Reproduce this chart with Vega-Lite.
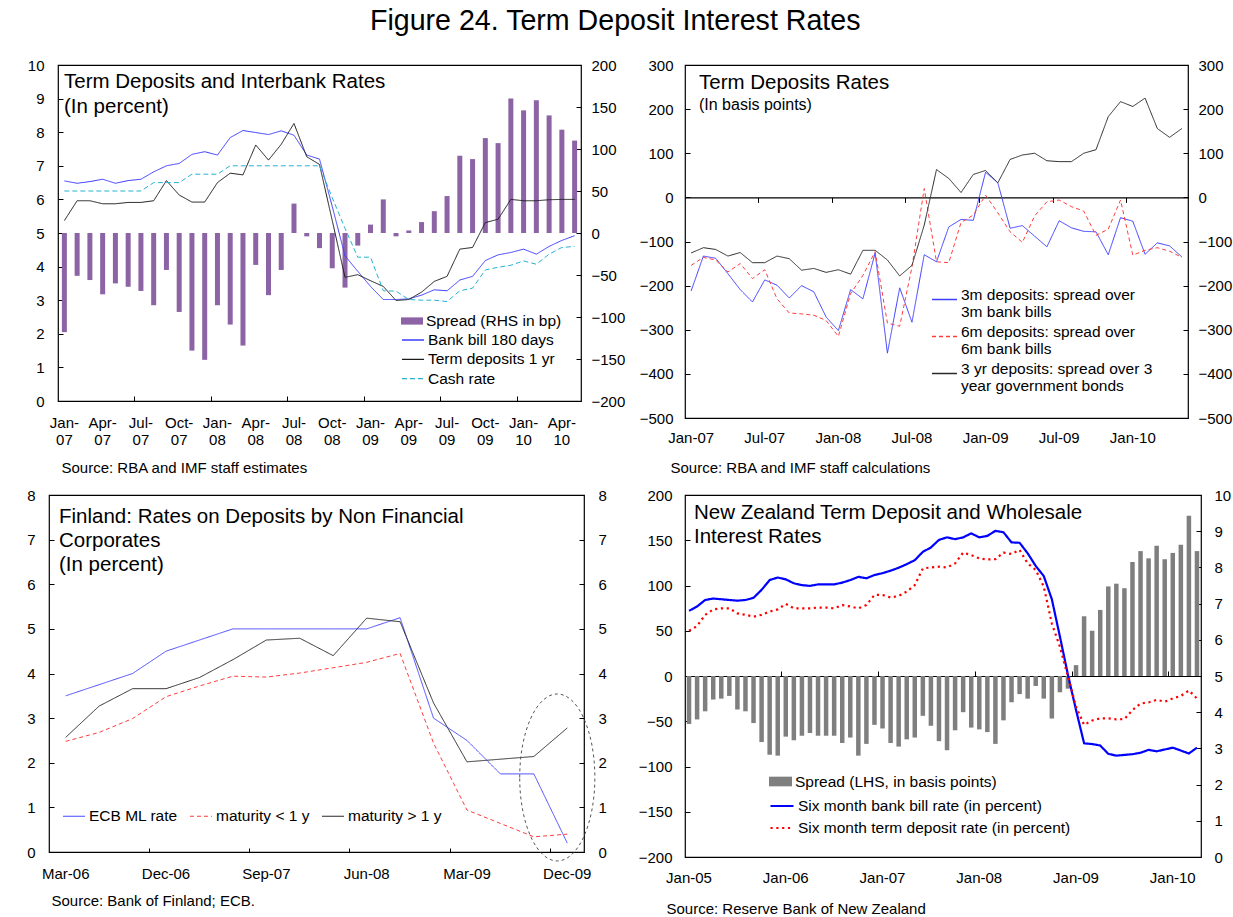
{
"$schema": "https://vega.github.io/schema/vega-lite/v6.json",
"padding": {"left": 26, "top": 6, "right": 0, "bottom": 0},
"title": {"text": "Figure 24. Term Deposit Interest Rates", "fontSize": 28.6, "anchor": "middle", "frame": "bounds", "offset": 22, "dx": -14},
"spacing": 11,
"columns": 1,
"align": "none",
"resolve": {"scale": {"stroke": "independent", "fill": "independent", "strokeDash": "independent", "strokeWidth": "independent"}, "legend": {"stroke": "independent", "fill": "independent", "strokeDash": "independent", "strokeWidth": "independent"}},
"datasets": {
"p1": [
{"m":"2007-01","spread":-118,"bill":6.55,"td":5.37,"cash":6.25},
{"m":"2007-02","spread":-51,"bill":6.48,"td":5.96,"cash":6.25},
{"m":"2007-03","spread":-56,"bill":6.53,"td":5.96,"cash":6.25},
{"m":"2007-04","spread":-73,"bill":6.60,"td":5.87,"cash":6.25},
{"m":"2007-05","spread":-60,"bill":6.48,"td":5.87,"cash":6.25},
{"m":"2007-06","spread":-64,"bill":6.56,"td":5.91,"cash":6.25},
{"m":"2007-07","spread":-69,"bill":6.60,"td":5.91,"cash":6.25},
{"m":"2007-08","spread":-86,"bill":6.82,"td":5.96,"cash":6.50},
{"m":"2007-09","spread":-44,"bill":7.00,"td":6.56,"cash":6.50},
{"m":"2007-10","spread":-94,"bill":7.07,"td":6.13,"cash":6.50},
{"m":"2007-11","spread":-140,"bill":7.34,"td":5.92,"cash":6.75},
{"m":"2007-12","spread":-151,"bill":7.42,"td":5.92,"cash":6.75},
{"m":"2008-01","spread":-86,"bill":7.32,"td":6.50,"cash":6.75},
{"m":"2008-02","spread":-109,"bill":7.84,"td":6.78,"cash":7.00},
{"m":"2008-03","spread":-134,"bill":8.05,"td":6.73,"cash":7.00},
{"m":"2008-04","spread":-38,"bill":7.99,"td":7.62,"cash":7.00},
{"m":"2008-05","spread":-74,"bill":7.93,"td":7.17,"cash":7.00},
{"m":"2008-06","spread":-44,"bill":8.04,"td":7.64,"cash":7.00},
{"m":"2008-07","spread":35,"bill":7.91,"td":8.26,"cash":7.00},
{"m":"2008-08","spread":-4,"bill":7.32,"td":7.27,"cash":7.00},
{"m":"2008-09","spread":-18,"bill":7.20,"td":7.04,"cash":7.00},
{"m":"2008-10","spread":-42,"bill":5.79,"td":5.37,"cash":6.05},
{"m":"2008-11","spread":-65,"bill":4.32,"td":3.68,"cash":5.14},
{"m":"2008-12","spread":-15,"bill":3.86,"td":3.76,"cash":4.28},
{"m":"2009-01","spread":10,"bill":3.41,"td":3.58,"cash":4.28},
{"m":"2009-02","spread":40,"bill":3.02,"td":3.41,"cash":3.28},
{"m":"2009-03","spread":-4,"bill":3.02,"td":2.99,"cash":3.27},
{"m":"2009-04","spread":3,"bill":3.04,"td":3.02,"cash":3.02},
{"m":"2009-05","spread":13,"bill":3.15,"td":3.24,"cash":3.00},
{"m":"2009-06","spread":26,"bill":3.31,"td":3.56,"cash":3.00},
{"m":"2009-07","spread":44,"bill":3.28,"td":3.71,"cash":2.96},
{"m":"2009-08","spread":92,"bill":3.60,"td":4.52,"cash":3.28},
{"m":"2009-09","spread":88,"bill":3.71,"td":4.57,"cash":3.36},
{"m":"2009-10","spread":113,"bill":4.18,"td":5.31,"cash":3.90},
{"m":"2009-11","spread":107,"bill":4.35,"td":5.41,"cash":3.98},
{"m":"2009-12","spread":160,"bill":4.42,"td":6.00,"cash":4.04},
{"m":"2010-01","spread":146,"bill":4.52,"td":5.96,"cash":4.17},
{"m":"2010-02","spread":158,"bill":4.37,"td":5.96,"cash":4.07},
{"m":"2010-03","spread":140,"bill":4.60,"td":5.99,"cash":4.37},
{"m":"2010-04","spread":123,"bill":4.78,"td":6.00,"cash":4.57},
{"m":"2010-05","spread":110,"bill":4.92,"td":6.00,"cash":4.60}
],
"p2": [
{"m":"2007-01","d3m":-212,"d6m":-154,"d3y":-126},
{"m":"2007-02","d3m":-133,"d6m":-136,"d3y":-114},
{"m":"2007-03","d3m":-138,"d6m":-142,"d3y":-118},
{"m":"2007-04","d3m":-173,"d6m":-169,"d3y":-133},
{"m":"2007-05","d3m":-209,"d6m":-150,"d3y":-125},
{"m":"2007-06","d3m":-237,"d6m":-184,"d3y":-148},
{"m":"2007-07","d3m":-187,"d6m":-164,"d3y":-148},
{"m":"2007-08","d3m":-199,"d6m":-230,"d3y":-133},
{"m":"2007-09","d3m":-228,"d6m":-262,"d3y":-139},
{"m":"2007-10","d3m":-200,"d6m":-264,"d3y":-165},
{"m":"2007-11","d3m":-214,"d6m":-267,"d3y":-161},
{"m":"2007-12","d3m":-271,"d6m":-279,"d3y":-170},
{"m":"2008-01","d3m":-302,"d6m":-315,"d3y":-164},
{"m":"2008-02","d3m":-209,"d6m":-218,"d3y":-174},
{"m":"2008-03","d3m":-230,"d6m":-177,"d3y":-120},
{"m":"2008-04","d3m":-126,"d6m":-123,"d3y":-120},
{"m":"2008-05","d3m":-353,"d6m":-285,"d3y":-142},
{"m":"2008-06","d3m":-205,"d6m":-292,"d3y":-178},
{"m":"2008-07","d3m":-283,"d6m":-158,"d3y":-154},
{"m":"2008-08","d3m":-130,"d6m":20,"d3y":-63},
{"m":"2008-09","d3m":-146,"d6m":-146,"d3y":63},
{"m":"2008-10","d3m":-67,"d6m":-148,"d3y":43},
{"m":"2008-11","d3m":-50,"d6m":-57,"d3y":11},
{"m":"2008-12","d3m":-52,"d6m":-40,"d3y":52},
{"m":"2009-01","d3m":57,"d6m":5,"d3y":61},
{"m":"2009-02","d3m":33,"d6m":-35,"d3y":33},
{"m":"2009-03","d3m":-70,"d6m":-78,"d3y":86},
{"m":"2009-04","d3m":-64,"d6m":-102,"d3y":96},
{"m":"2009-05","d3m":-88,"d6m":-42,"d3y":100},
{"m":"2009-06","d3m":-112,"d6m":-10,"d3y":83},
{"m":"2009-07","d3m":-53,"d6m":-6,"d3y":81},
{"m":"2009-08","d3m":-69,"d6m":-21,"d3y":81},
{"m":"2009-09","d3m":-77,"d6m":-31,"d3y":100},
{"m":"2009-10","d3m":-78,"d6m":-86,"d3y":108},
{"m":"2009-11","d3m":-130,"d6m":-72,"d3y":183},
{"m":"2009-12","d3m":-46,"d6m":-6,"d3y":217},
{"m":"2010-01","d3m":-54,"d6m":-131,"d3y":206},
{"m":"2010-02","d3m":-129,"d6m":-120,"d3y":225},
{"m":"2010-03","d3m":-103,"d6m":-114,"d3y":156},
{"m":"2010-04","d3m":-110,"d6m":-122,"d3y":136},
{"m":"2010-05","d3m":-135,"d6m":-136,"d3y":156}
],
"p3": [
{"q":"2006-03","ecb":3.5,"lt1":2.48,"gt1":2.57},
{"q":"2006-06","ecb":3.75,"lt1":2.68,"gt1":3.27},
{"q":"2006-09","ecb":4.0,"lt1":2.99,"gt1":3.66},
{"q":"2006-12","ecb":4.5,"lt1":3.48,"gt1":3.66},
{"q":"2007-03","ecb":4.75,"lt1":3.72,"gt1":3.91},
{"q":"2007-06","ecb":5.0,"lt1":3.94,"gt1":4.31},
{"q":"2007-09","ecb":5.0,"lt1":3.92,"gt1":4.75},
{"q":"2007-12","ecb":5.0,"lt1":4.01,"gt1":4.79},
{"q":"2008-03","ecb":5.0,"lt1":4.13,"gt1":4.40},
{"q":"2008-06","ecb":5.0,"lt1":4.25,"gt1":5.24},
{"q":"2008-09","ecb":5.25,"lt1":4.45,"gt1":5.16},
{"q":"2008-12","ecb":3.0,"lt1":2.44,"gt1":3.34},
{"q":"2009-03","ecb":2.5,"lt1":0.94,"gt1":2.02},
{"q":"2009-06","ecb":1.75,"lt1":0.64,"gt1":2.08},
{"q":"2009-09","ecb":1.75,"lt1":0.34,"gt1":2.14},
{"q":"2009-12","ecb":0.2,"lt1":0.40,"gt1":2.78}
],
"p3e": [{"q":"2009-12","v":1.67}],
"p4": [
{"m":"2005-01","spread":-53,"bill":6.80,"td":6.25},
{"m":"2005-02","spread":-48,"bill":6.92,"td":6.38},
{"m":"2005-03","spread":-39,"bill":7.10,"td":6.69},
{"m":"2005-04","spread":-26,"bill":7.14,"td":6.84},
{"m":"2005-05","spread":-25,"bill":7.12,"td":6.87},
{"m":"2005-06","spread":-22,"bill":7.10,"td":6.87},
{"m":"2005-07","spread":-37,"bill":7.08,"td":6.73},
{"m":"2005-08","spread":-39,"bill":7.10,"td":6.69},
{"m":"2005-09","spread":-52,"bill":7.16,"td":6.64},
{"m":"2005-10","spread":-73,"bill":7.38,"td":6.69},
{"m":"2005-11","spread":-87,"bill":7.65,"td":6.78},
{"m":"2005-12","spread":-88,"bill":7.72,"td":6.84},
{"m":"2006-01","spread":-67,"bill":7.67,"td":6.99},
{"m":"2006-02","spread":-71,"bill":7.56,"td":6.87},
{"m":"2006-03","spread":-66,"bill":7.51,"td":6.87},
{"m":"2006-04","spread":-63,"bill":7.49,"td":6.87},
{"m":"2006-05","spread":-66,"bill":7.53,"td":6.89},
{"m":"2006-06","spread":-66,"bill":7.53,"td":6.89},
{"m":"2006-07","spread":-66,"bill":7.53,"td":6.87},
{"m":"2006-08","spread":-74,"bill":7.58,"td":6.96},
{"m":"2006-09","spread":-68,"bill":7.65,"td":6.92},
{"m":"2006-10","spread":-88,"bill":7.74,"td":6.87},
{"m":"2006-11","spread":-75,"bill":7.70,"td":6.96},
{"m":"2006-12","spread":-54,"bill":7.79,"td":7.24},
{"m":"2007-01","spread":-58,"bill":7.84,"td":7.24},
{"m":"2007-02","spread":-74,"bill":7.91,"td":7.17},
{"m":"2007-03","spread":-78,"bill":7.99,"td":7.21},
{"m":"2007-04","spread":-70,"bill":8.09,"td":7.33},
{"m":"2007-05","spread":-68,"bill":8.20,"td":7.51},
{"m":"2007-06","spread":-44,"bill":8.43,"td":7.97},
{"m":"2007-07","spread":-55,"bill":8.55,"td":8.00},
{"m":"2007-08","spread":-72,"bill":8.76,"td":8.02},
{"m":"2007-09","spread":-82,"bill":8.83,"td":8.00},
{"m":"2007-10","spread":-60,"bill":8.78,"td":8.11},
{"m":"2007-11","spread":-40,"bill":8.83,"td":8.41},
{"m":"2007-12","spread":-57,"bill":8.94,"td":8.34},
{"m":"2008-01","spread":-59,"bill":8.83,"td":8.25},
{"m":"2008-02","spread":-62,"bill":8.87,"td":8.22},
{"m":"2008-03","spread":-75,"bill":9.01,"td":8.23},
{"m":"2008-04","spread":-49,"bill":8.97,"td":8.41},
{"m":"2008-05","spread":-29,"bill":8.69,"td":8.37},
{"m":"2008-06","spread":-20,"bill":8.68,"td":8.48},
{"m":"2008-07","spread":-25,"bill":8.39,"td":8.11},
{"m":"2008-08","spread":-11,"bill":8.04,"td":7.93},
{"m":"2008-09","spread":-25,"bill":7.76,"td":7.47},
{"m":"2008-10","spread":-47,"bill":7.12,"td":6.45},
{"m":"2008-11","spread":-18,"bill":6.09,"td":5.81},
{"m":"2008-12","spread":-14,"bill":5.03,"td":4.98},
{"m":"2009-01","spread":12,"bill":4.06,"td":4.15},
{"m":"2009-02","spread":66,"bill":3.14,"td":3.65},
{"m":"2009-03","spread":50,"bill":3.12,"td":3.77},
{"m":"2009-04","spread":73,"bill":3.08,"td":3.83},
{"m":"2009-05","spread":99,"bill":2.85,"td":3.83},
{"m":"2009-06","spread":102,"bill":2.80,"td":3.80},
{"m":"2009-07","spread":97,"bill":2.82,"td":3.81},
{"m":"2009-08","spread":126,"bill":2.84,"td":4.06},
{"m":"2009-09","spread":138,"bill":2.88,"td":4.24},
{"m":"2009-10","spread":130,"bill":2.96,"td":4.27},
{"m":"2009-11","spread":144,"bill":2.92,"td":4.34},
{"m":"2009-12","spread":129,"bill":2.97,"td":4.29},
{"m":"2010-01","spread":136,"bill":3.02,"td":4.38},
{"m":"2010-02","spread":145,"bill":2.94,"td":4.45},
{"m":"2010-03","spread":177,"bill":2.86,"td":4.60},
{"m":"2010-04","spread":138,"bill":3.02,"td":4.38}
]
},
"concat": [
{"bounds": "flush", "spacing": 8,
"resolve": {"scale": {"stroke": "independent", "fill": "independent", "strokeDash": "independent", "strokeWidth": "independent"}, "legend": {"stroke": "independent", "fill": "independent", "strokeDash": "independent", "strokeWidth": "independent"}},
"hconcat": [
{"width": 1, "height": 1, "data": {"values": [{"a": 0}]}, "mark": {"type": "point", "opacity": 0}, "view": {"stroke": null}},
{"bounds": "flush", "spacing": 104,
"resolve": {"scale": {"stroke": "independent", "fill": "independent", "strokeDash": "independent", "strokeWidth": "independent"}, "legend": {"stroke": "independent", "fill": "independent", "strokeDash": "independent", "strokeWidth": "independent"}},
"hconcat": [
{
"width": 523, "height": 336,
"title": {"text": ["Term Deposits and Interbank Rates", "(In percent)"], "anchor": "start", "frame": "group", "fontSize": 20.5, "lineHeight": 25, "dx": 6, "offset": -59},
"data": {"name": "p1"},
"layer": [
{"mark": {"type": "bar", "width": 5},
 "encoding": {
  "x": {"field": "m", "type": "ordinal", "scale": {"type": "band", "paddingInner": 0, "paddingOuter": 0},
   "axis": {"values": ["2007-01","2007-04","2007-07","2007-10","2008-01","2008-04","2008-07","2008-10","2009-01","2009-04","2009-07","2009-10","2010-01","2010-04"],
    "labelExpr": "[['Jan','Feb','Mar','Apr','May','Jun','Jul','Aug','Sep','Oct','Nov','Dec'][toNumber(slice(datum.value,5,7))-1] + '-', slice(datum.value,2,4)]",
    "orient": "bottom", "ticks": false, "labelPadding": 14, "labelBaseline": "top", "labelLineHeight": 17,
    "title": "Source: RBA and IMF staff estimates", "titleX": 3, "titleY": 66, "titleAlign": "left", "titleBaseline": "middle", "titleAnchor": "start"}},
  "y": {"field": "spread", "type": "quantitative", "scale": {"domain": [-200, 200], "nice": false},
   "axis": {"orient": "right", "values": [-200,-150,-100,-50,0,50,100,150,200], "title": null, "labelPadding": 15}},
  "fill": {"datum": "Spread (RHS in bp)", "type": "nominal", "scale": {"range": ["#8c64a6"]},
   "legend": {"orient": "none", "legendX": 343, "legendY": 245, "title": null, "symbolType": "M-1,-0.33H1V0.33H-1Z", "symbolSize": 484, "symbolStrokeWidth": 0}}
 }},
{"transform": [{"fold": ["bill","td","cash"], "as": ["s","v"]}],
 "mark": {"type": "line", "strokeWidth": 1},
 "encoding": {
  "x": {"field": "m", "type": "ordinal",
   "axis": {"orient": "bottom", "values": ["2007-07","2008-01","2008-07","2009-01","2009-07","2010-01"], "bandPosition": 0, "labels": false, "ticks": true, "tickSize": -5, "title": null}},
  "y": {"field": "v", "type": "quantitative", "scale": {"domain": [0, 10], "nice": false},
   "axis": {"orient": "left", "values": [0,1,2,3,4,5,6,7,8,9,10], "title": null, "labelPadding": 19}},
  "stroke": {"field": "s", "type": "nominal", "scale": {"domain": ["bill","td","cash"], "range": ["#3a3aff","#1a1a1a","#25b2d4"]},
   "legend": {"orient": "none", "legendX": 345.5, "legendY": 265.5, "title": null, "symbolType": "M-1.3,0H1.3", "symbolSize": 289, "symbolStrokeWidth": 1.3, "rowPadding": 1.3, "labelOffset": 5.5,
    "labelExpr": "datum.label == 'bill' ? 'Bank bill 180 days' : datum.label == 'td' ? 'Term deposits 1 yr' : 'Cash rate'"}},
  "strokeDash": {"field": "s", "type": "nominal", "scale": {"domain": ["bill","td","cash"], "range": [[1,0],[1,0],[5,3]]}}
 }}
],
"resolve": {"scale": {"y": "independent"}, "axis": {"x": "independent"}}
},
{
"width": 503, "height": 353,
"title": {"text": "Term Deposits Rates", "subtitle": "(In basis points)", "anchor": "start", "frame": "group", "fontSize": 20.5, "subtitleFontSize": 16, "subtitlePadding": 4, "dx": 14, "offset": -55},
"data": {"name": "p2"},
"transform": [{"fold": ["d3m","d6m","d3y"], "as": ["s","v"]}],
"layer": [
{"mark": {"type": "line", "strokeWidth": 1},
 "encoding": {
  "x": {"field": "m", "type": "ordinal", "scale": {"type": "band", "paddingInner": 0, "paddingOuter": 0},
   "axis": {"orient": "bottom", "values": ["2007-01","2007-07","2008-01","2008-07","2009-01","2009-07","2010-01"],
    "labelExpr": "['Jan','Feb','Mar','Apr','May','Jun','Jul','Aug','Sep','Oct','Nov','Dec'][toNumber(slice(datum.value,5,7))-1] + '-' + slice(datum.value,2,4)",
    "ticks": false, "labelPadding": 12.5, "labelBaseline": "top",
    "title": "Source: RBA and IMF staff calculations", "titleX": -15, "titleY": 49, "titleAlign": "left", "titleBaseline": "middle"}},
  "y": {"field": "v", "type": "quantitative", "scale": {"domain": [-500, 300], "nice": false},
   "axis": {"orient": "left", "values": [-500,-400,-300,-200,-100,0,100,200,300], "title": null, "labelPadding": 17}},
  "stroke": {"field": "s", "type": "nominal", "scale": {"domain": ["d3m","d6m","d3y"], "range": ["#3d3dff","#ff3d3d","#2a2a2a"]},
   "legend": {"orient": "none", "legendX": 246, "legendY": 221, "title": null, "symbolType": "stroke", "symbolSize": 625, "symbolStrokeWidth": 1.4, "labelBaseline": "alphabetic", "rowPadding": 2,
    "labelExpr": "datum.label == 'd3m' ? ['3m deposits: spread over', '3m bank bills'] : datum.label == 'd6m' ? [' 6m deposits: spread over', '6m bank bills'] : ['3 yr deposits: spread over 3', 'year government bonds']"}},
  "strokeDash": {"field": "s", "type": "nominal", "scale": {"domain": ["d3m","d6m","d3y"], "range": [[1,0],[4,3],[1,0]]}}
 }},
{"mark": {"type": "line", "opacity": 0},
 "encoding": {
  "x": {"field": "m", "type": "ordinal",
   "axis": {"orient": "bottom", "values": ["2007-07","2008-01","2008-07","2009-01","2009-07","2010-01"], "bandPosition": 0, "labels": false, "ticks": true, "tickSize": 5, "domain": true, "domainColor": "black", "domainWidth": 1.2, "offset": -220.6, "title": null}},
  "y": {"field": "v", "type": "quantitative", "scale": {"domain": [-500, 300], "nice": false},
   "axis": {"orient": "right", "values": [-500,-400,-300,-200,-100,0,100,200,300], "title": null, "labelPadding": 15}},
  "detail": {"field": "s", "type": "nominal"}
 }}
],
"resolve": {"scale": {"y": "independent"}, "axis": {"x": "independent"}}
}
]}
]},
{"bounds": "flush", "spacing": 101,
"resolve": {"scale": {"stroke": "independent", "fill": "independent", "strokeDash": "independent", "strokeWidth": "independent"}, "legend": {"stroke": "independent", "fill": "independent", "strokeDash": "independent", "strokeWidth": "independent"}},
"hconcat": [
{
"width": 535, "height": 357,
"title": {"text": ["Finland: Rates on Deposits by Non Financial", "Corporates", "(In percent)"], "anchor": "start", "frame": "group", "fontSize": 20.5, "lineHeight": 24, "dx": 10, "offset": -87},
"layer": [
{"data": {"name": "p3"},
 "transform": [{"fold": ["ecb","lt1","gt1"], "as": ["s","v"]}],
 "mark": {"type": "line", "strokeWidth": 1},
 "encoding": {
  "x": {"field": "q", "type": "ordinal", "scale": {"type": "band", "paddingInner": 0, "paddingOuter": 0},
   "axis": {"orient": "bottom", "values": ["2006-03","2006-12","2007-09","2008-06","2009-03","2009-12"],
    "labelExpr": "['Jan','Feb','Mar','Apr','May','Jun','Jul','Aug','Sep','Oct','Nov','Dec'][toNumber(slice(datum.value,5,7))-1] + '-' + slice(datum.value,2,4)",
    "ticks": false, "labelPadding": 14.5, "labelBaseline": "top",
    "title": "Source: Bank of Finland; ECB.", "titleX": 2, "titleY": 48, "titleAlign": "left", "titleBaseline": "middle"}},
  "y": {"field": "v", "type": "quantitative", "scale": {"domain": [0, 8], "nice": false},
   "axis": {"orient": "left", "values": [0,1,2,3,4,5,6,7,8], "title": null, "labelPadding": 19}},
  "stroke": {"field": "s", "type": "nominal", "scale": {"domain": ["ecb","lt1","gt1"], "range": ["#4a4aff","#ff3d3d","#2a2a2a"]},
   "legend": {"orient": "none", "direction": "horizontal", "columns": 3, "legendX": 13, "legendY": 309, "title": null, "symbolType": "stroke", "symbolSize": 484, "symbolStrokeWidth": 1.2, "columnPadding": 9,
    "labelExpr": "datum.label == 'ecb' ? 'ECB ML rate' : datum.label == 'lt1' ? 'maturity < 1 y' : 'maturity > 1 y'"}},
  "strokeDash": {"field": "s", "type": "nominal", "scale": {"domain": ["ecb","lt1","gt1"], "range": [[1,0],[4,3],[1,0]]}}
 }},
{"data": {"name": "p3e"},
 "mark": {"type": "point", "shape": "M-0.45,0C-0.45,-0.5523,-0.2485,-1,0,-1C0.2485,-1,0.45,-0.5523,0.45,0C0.45,0.5523,0.2485,1,0,1C-0.2485,1,-0.45,0.5523,-0.45,0Z", "size": 27889, "filled": false, "stroke": "#555555", "strokeDash": [3,3], "strokeWidth": 1, "opacity": 1, "xOffset": -10},
 "encoding": {
  "x": {"field": "q", "type": "ordinal",
   "axis": {"orient": "bottom", "values": ["2006-12","2007-09","2008-06","2009-03","2009-12"], "bandPosition": 0, "labels": false, "ticks": true, "tickSize": -4, "title": null}},
  "y": {"field": "v", "type": "quantitative", "scale": {"domain": [0, 8], "nice": false},
   "axis": {"orient": "right", "values": [0,1,2,3,4,5,6,7,8], "title": null, "labelPadding": 19}}
 }}
],
"resolve": {"scale": {"y": "independent"}, "axis": {"x": "independent"}}
},
{
"width": 516, "height": 362,
"title": {"text": ["New Zealand Term Deposit and Wholesale", "Interest Rates"], "anchor": "start", "frame": "group", "fontSize": 20.5, "lineHeight": 24, "dx": 9, "offset": -59},
"data": {"name": "p4"},
"layer": [
{"mark": {"type": "bar", "width": 4.5},
 "encoding": {
  "x": {"field": "m", "type": "ordinal", "scale": {"type": "band", "paddingInner": 0, "paddingOuter": 0},
   "axis": {"orient": "bottom", "values": ["2005-01","2006-01","2007-01","2008-01","2009-01","2010-01"],
    "labelExpr": "['Jan','Feb','Mar','Apr','May','Jun','Jul','Aug','Sep','Oct','Nov','Dec'][toNumber(slice(datum.value,5,7))-1] + '-' + slice(datum.value,2,4)",
    "ticks": false, "labelPadding": 13.5, "labelBaseline": "top",
    "title": "Source:  Reserve Bank of New Zealand", "titleX": -19, "titleY": 51, "titleAlign": "left", "titleBaseline": "middle"}},
  "y": {"field": "spread", "type": "quantitative", "scale": {"domain": [-200, 200], "nice": false},
   "axis": {"orient": "left", "values": [-200,-150,-100,-50,0,50,100,150,200], "title": null, "labelPadding": 18}},
  "fill": {"datum": "Spread (LHS, in basis points)", "type": "nominal", "scale": {"range": ["#7f7f7f"]},
   "legend": {"orient": "none", "legendX": 84, "legendY": 275, "title": null, "symbolType": "M-1,-0.42H1V0.42H-1Z", "symbolSize": 529, "symbolStrokeWidth": 0}}
 }},
{"transform": [{"fold": ["bill","td"], "as": ["s","v"]}],
 "mark": {"type": "line", "strokeWidth": 2.2},
 "encoding": {
  "x": {"field": "m", "type": "ordinal",
   "axis": {"orient": "bottom", "values": ["2006-01","2007-01","2008-01","2009-01","2010-01"], "bandPosition": 0, "labels": false, "ticks": true, "tickSize": -5, "domain": true, "domainColor": "black", "domainWidth": 1.2, "offset": -181, "title": null}},
  "y": {"field": "v", "type": "quantitative", "scale": {"domain": [0, 10], "nice": false},
   "axis": {"orient": "right", "values": [0,1,2,3,4,5,6,7,8,9,10], "title": null, "labelPadding": 18}},
  "stroke": {"field": "s", "type": "nominal", "scale": {"domain": ["bill","td"], "range": ["#0000ff","#ff0000"]},
   "legend": {"orient": "none", "legendX": 84, "legendY": 298, "title": null, "symbolType": "stroke", "symbolSize": 529, "symbolStrokeWidth": 2.2, "rowPadding": 0,
    "labelExpr": "datum.label == 'bill' ? 'Six month bank bill rate (in percent)' : 'Six month term deposit rate (in percent)'"}},
  "strokeDash": {"field": "s", "type": "nominal", "scale": {"domain": ["bill","td"], "range": [[1,0],[2.2,3.6]]}}
 }}
],
"resolve": {"scale": {"y": "independent"}, "axis": {"x": "independent"}}
}
]}
],
"config": {
 "font": "Liberation Sans",
 "background": "white",
 "view": {"stroke": "black", "strokeWidth": 1.2},
 "axis": {"labelFontSize": 15, "labelColor": "black", "grid": false, "domain": false, "tickColor": "black", "tickSize": -5, "tickWidth": 1, "labelPadding": 18, "titleFontSize": 15, "titleFontWeight": "normal", "titleColor": "black", "labelAngle": 0, "labelFlush": false},
 "legend": {"labelFontSize": 15.5, "labelColor": "black", "padding": 0, "labelLimit": 600, "rowPadding": 3, "labelOffset": 3},
 "title": {"fontWeight": "normal", "color": "black", "subtitleColor": "black"}
}
}
